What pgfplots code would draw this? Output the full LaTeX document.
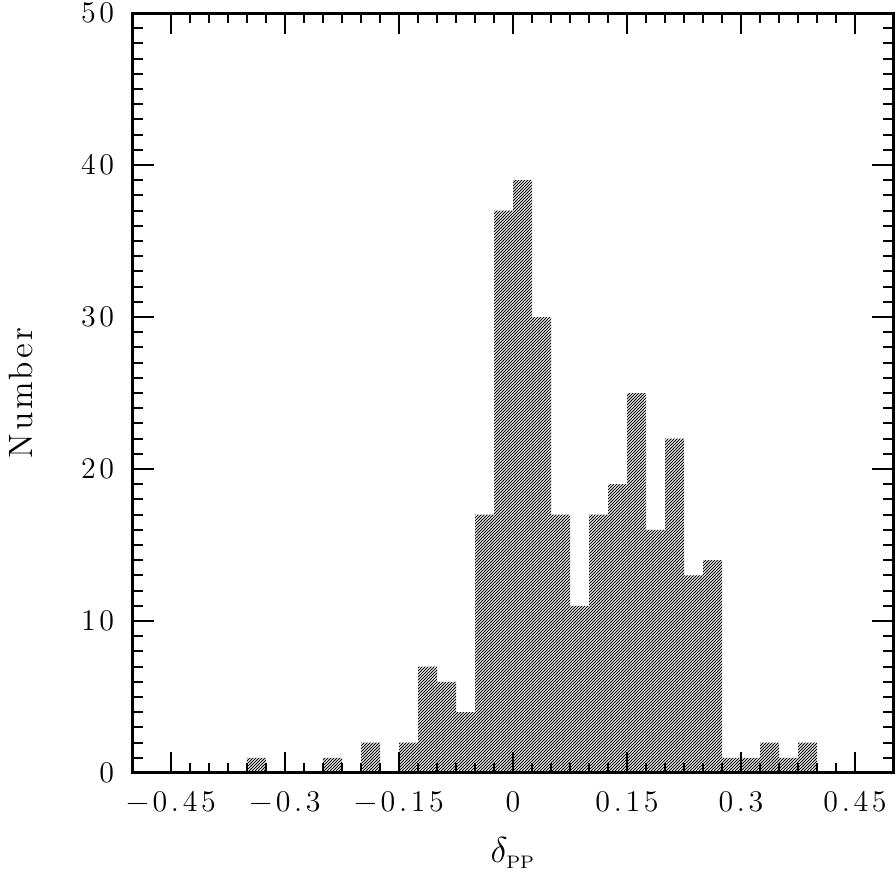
\documentclass[border=0pt]{standalone}
\usepackage{fontspec}
\setmainfont{Latin Modern Roman}
\newfontfamily\tickfont{Latin Modern Roman}[LetterSpace=12]
\newfontfamily\labfont{Latin Modern Roman}[LetterSpace=8]
\usepackage{pgfplots}
\pgfplotsset{compat=1.18}
\usetikzlibrary{patterns.meta}
\begin{document}
\begin{tikzpicture}
\useasboundingbox (-53.2pt,-43.6pt) rectangle (305.2pt,309.2pt);
\begin{axis}[
  at={(0,0)}, anchor=south west,
  scale only axis, width=304pt, height=304pt,
  xmin=-0.5, xmax=0.5, ymin=0, ymax=50,
  xtick={-0.45,-0.3,-0.15,0,0.15,0.3,0.45},
  xticklabels={−0.45,−0.3,−0.15,0,0.15,0.3,0.45},
  ytick={0,10,20,30,40,50},
  yticklabels={0,10,20,30,40,50},
  /pgf/number format/assume math mode=true,
  minor x tick num=5, minor y tick num=9,
  tick align=inside,
  major tick length=8.4pt, minor tick length=4pt,
  every tick/.style={black, line width=0.8pt},
  axis line style={line width=1.2pt},
  axis on top,
  tick label style={font=\fontsize{12}{14}\selectfont\tickfont},
  x tick label style={yshift=-3.8pt},
  y tick label style={xshift=-4pt},
  xlabel={$\delta_{\scriptscriptstyle\mathrm{PP}}$},
  ylabel={Number},
  xlabel style={font=\fontsize{14.5}{16}\selectfont, at={(axis description cs:0.5,0)}, anchor=base, yshift=-36pt},
  ylabel style={font=\fontsize{13.5}{16}\selectfont\labfont, at={(axis description cs:0,0.5)}, anchor=base, yshift=40pt},
]
\addplot[ybar interval, draw=none,
  pattern={Lines[angle=45,distance=0.8485pt,line width=0.34pt]}, pattern color=black]
coordinates {
(-0.350,1) (-0.325,0) (-0.300,0) (-0.275,0) (-0.250,1) (-0.225,0)
(-0.200,2) (-0.175,0) (-0.150,2) (-0.125,7) (-0.100,6) (-0.075,4)
(-0.050,17) (-0.025,37) (0.000,39) (0.025,30) (0.050,17) (0.075,11)
(0.100,17) (0.125,19) (0.150,25) (0.175,16) (0.200,22) (0.225,13)
(0.250,14) (0.275,1) (0.300,1) (0.325,2) (0.350,1) (0.375,2) (0.400,0)
};
\end{axis}
\end{tikzpicture}
\end{document}
